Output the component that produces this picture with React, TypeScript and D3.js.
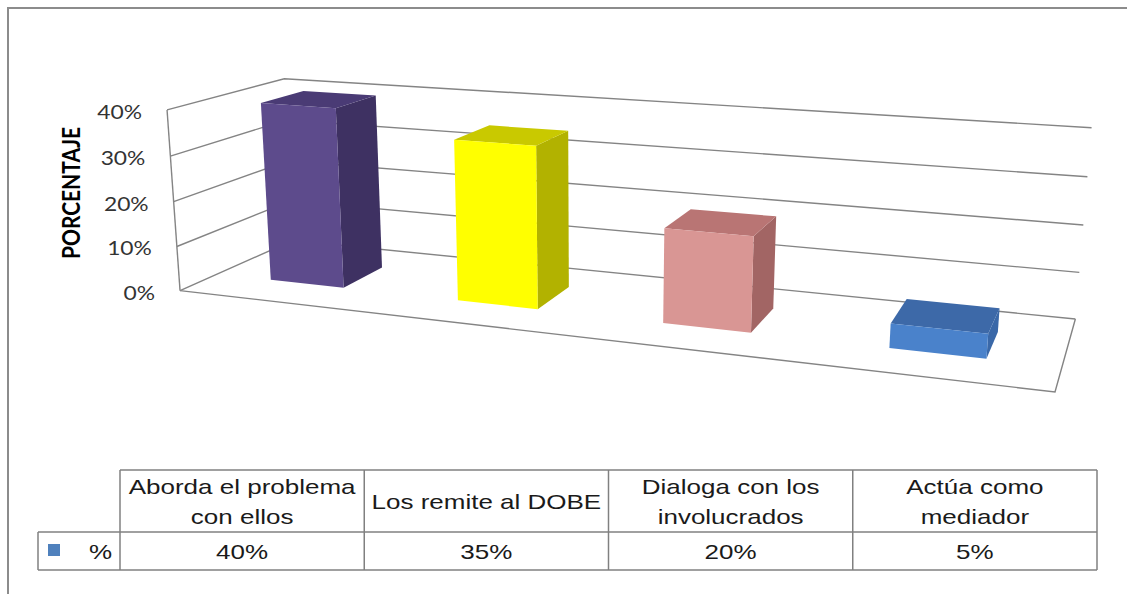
import React, { useMemo } from "react";
import * as d3 from "d3";

// ---------- data ----------
const categories = [
  "Aborda el problema con ellos",
  "Los remite al DOBE",
  "Dialoga con los involucrados",
  "Actúa como mediador",
];
const categoryLines = [
  ["Aborda el problema", "con ellos"],
  ["Los remite al DOBE"],
  ["Dialoga con los", "involucrados"],
  ["Actúa como", "mediador"],
];
const values = [0.4, 0.35, 0.2, 0.05];
const seriesName = "%";
const yTicks = [0, 0.1, 0.2, 0.3, 0.4];
const axisTitle = "PORCENTAJE";

// ---------- styles ----------
const frontColors = ["#5d4b8c", "#ffff00", "#d99694", "#4a82cb"];
const sideColors = ["#3e3162", "#b2b200", "#a26564", "#3a68a8"];
const topColors = ["#4a3b75", "#c9c900", "#b97574", "#3d69a8"];
const legendColor = "#4f81bd";
const gridColor = "#848484";

// ---------- layout: 3D projection calibration (world x,y,z in [0,1] -> screen) ----------
const CALIB: [number[], number[]][] = [
  [[0, 0, 0], [183, 290]],
  [[0, 0.25, 0], [175, 245]],
  [[0, 0.5, 0], [172, 202]],
  [[0, 0.75, 0], [170, 157]],
  [[0, 1, 0], [168, 110]],
  [[0, 1, 1], [285, 78]],
  [[0, 0, 1], [292, 242]],
  [[1, 1, 1], [1092, 128]],
  [[1, 0.75, 1], [1087, 177]],
  [[1, 0.5, 1], [1083, 225]],
  [[1, 0.25, 1], [1079, 272]],
  [[1, 0, 1], [1076, 318]],
  [[1, 0, 0], [1055, 393]],
];
const BAR_Z0 = 0.31;
const BAR_Z1 = 0.69;

function fitProjection(calib: [number[], number[]][]) {
  const cu = 600, cv = 250, s = 500;
  const rows: number[][] = [];
  const rhs: number[] = [];
  for (const [[X, Y, Z], [U, V]] of calib) {
    const u = (U - cu) / s, v = (V - cv) / s;
    rows.push([X, Y, Z, 1, 0, 0, 0, 0, -u * X, -u * Y, -u * Z]);
    rhs.push(u);
    rows.push([0, 0, 0, 0, X, Y, Z, 1, -v * X, -v * Y, -v * Z]);
    rhs.push(v);
  }
  const n = 11;
  const N = Array.from({ length: n }, () => new Array(n + 1).fill(0));
  rows.forEach((r, k) => {
    for (let i = 0; i < n; i++) {
      for (let j = 0; j < n; j++) N[i][j] += r[i] * r[j];
      N[i][n] += r[i] * rhs[k];
    }
  });
  for (let c = 0; c < n; c++) {
    let p = c;
    for (let r = c + 1; r < n; r++) if (Math.abs(N[r][c]) > Math.abs(N[p][c])) p = r;
    const tmp = N[c]; N[c] = N[p]; N[p] = tmp;
    for (let r = 0; r < n; r++) {
      if (r === c) continue;
      const f = N[r][c] / N[c][c];
      for (let j = c; j <= n; j++) N[r][j] -= f * N[c][j];
    }
  }
  const m = N.map((row, i) => row[n] / row[i]);
  return (X: number, Y: number, Z: number): [number, number] => {
    const w = m[8] * X + m[9] * Y + m[10] * Z + 1;
    return [
      cu + (s * (m[0] * X + m[1] * Y + m[2] * Z + m[3])) / w,
      cv + (s * (m[4] * X + m[5] * Y + m[6] * Z + m[7])) / w,
    ];
  };
}

function STxt(props: any) {
  const { x, y, sx = 1, children, ...rest } = props;
  return (
    <text transform={`translate(${x},${y}) scale(${sx},1)`} {...rest}>
      {children}
    </text>
  );
}

export default function App() {
  const P = useMemo(() => fitProjection(CALIB), []);
  const xBand = d3.scaleBand<string>().domain(categories).range([0, 1]).paddingInner(0.6).paddingOuter(0.3);
  const yScale = d3.scaleLinear().domain([0, 0.4]).range([0, 1]);
  const pct = d3.format(".0%");
  const line = d3.line<[number, number]>();
  const poly = (pts: number[][]) => line(pts.map(([a, b, c]) => P(a, b, c)))! + "Z";

  const colScale = d3.scaleBand<string>().domain(categories).range([120, 1097]);
  const tTop = 470, tMid = 532, tBot = 570, tLeft = 38, legendRight = 120;

  const tableFont = { fontFamily: "'Liberation Sans', Arial, sans-serif", fontSize: 20, fill: "#1a1a1a" };
  const tsx = 1.3;

  return (
    <svg width={1127} height={594} style={{ position: "absolute", left: 0, top: 0, background: "#fff" }}>
      <rect x={0} y={0} width={1127} height={594} fill="#fff" />
      {/* outer frame */}
      <path d="M8,594 L8,8 L1127,8" fill="none" stroke="#8c8c8c" strokeWidth={2} />

      {/* gridlines on side + back wall */}
      {yTicks.map((t) => {
        const y = yScale(t);
        return (
          <path
            key={"g" + t}
            d={line([P(0, y, 0), P(0, y, 1), P(1, y, 1)])!}
            fill="none"
            stroke={gridColor}
            strokeWidth={1.4}
          />
        );
      })}
      {/* value axis line */}
      <path d={line([P(0, 0, 0), P(0, yScale(0.4), 0)])!} stroke={gridColor} strokeWidth={1.4} fill="none" />
      {/* floor outline */}
      <path d={line([P(0, 0, 0), P(1, 0, 0), P(1, 0, 1)])!} stroke={gridColor} strokeWidth={1.4} fill="none" />

      {/* bars */}
      {categories.map((c, i) => {
        const x0 = xBand(c)!;
        const x1 = x0 + xBand.bandwidth();
        const h = yScale(values[i]);
        const z0 = BAR_Z0, z1 = BAR_Z1;
        return (
          <g key={c}>
            <path d={poly([[x1, 0, z0], [x1, 0, z1], [x1, h, z1], [x1, h, z0]])} fill={sideColors[i]} />
            <path d={poly([[x0, h, z0], [x1, h, z0], [x1, h, z1], [x0, h, z1]])} fill={topColors[i]} />
            <path d={poly([[x0, 0, z0], [x1, 0, z0], [x1, h, z0], [x0, h, z0]])} fill={frontColors[i]} />
          </g>
        );
      })}

      {/* tick labels */}
      {yTicks.map((t) => {
        const [px, py] = P(0, yScale(t), 0);
        return (
          <STxt
            key={"t" + t}
            x={px - 25}
            y={py + 9}
            sx={1.17}
            textAnchor="end"
            fontFamily="Lato, 'Open Sans', sans-serif"
            fontSize={19.5}
            fill="#333"
          >
            {pct(t)}
          </STxt>
        );
      })}
      {/* axis title */}
      <g transform="translate(80,193) scale(1.15,1) rotate(-90)">
        <text textAnchor="middle" fontFamily="Lato, sans-serif" fontWeight="bold" fontSize={21} fill="#000">
          {axisTitle}
        </text>
      </g>

      {/* data table */}
      <g stroke="#808080" strokeWidth={1.5} fill="none">
        <path d={`M${legendRight},${tTop}H1097`} />
        <path d={`M${tLeft},${tMid}H1097`} />
        <path d={`M${tLeft},${tBot}H1097`} />
        <path d={`M${tLeft},${tMid}V${tBot}`} />
        <path d={`M${legendRight},${tTop}V${tBot}`} />
        {categories.map((c) => (
          <path key={"v" + c} d={`M${colScale(c)! + colScale.bandwidth()},${tTop}V${tBot}`} />
        ))}
      </g>
      {categories.map((c, i) => {
        const cx = colScale(c)! + colScale.bandwidth() / 2;
        const lines = categoryLines[i];
        const first = (tTop + tMid) / 2 - (lines.length - 1) * 15 + 8;
        return (
          <g key={"h" + c}>
            {lines.map((l, k) => (
              <STxt key={k} x={cx} y={first + k * 30} sx={tsx} textAnchor="middle" {...tableFont}>
                {l}
              </STxt>
            ))}
            <STxt x={cx} y={(tMid + tBot) / 2 + 7.5} sx={tsx} textAnchor="middle" {...tableFont}>
              {pct(values[i])}
            </STxt>
          </g>
        );
      })}
      <rect x={48} y={544} width={12} height={12} fill={legendColor} />
      <STxt x={112} y={(tMid + tBot) / 2 + 7.5} sx={tsx} textAnchor="end" {...tableFont}>
        {seriesName}
      </STxt>
    </svg>
  );
}
